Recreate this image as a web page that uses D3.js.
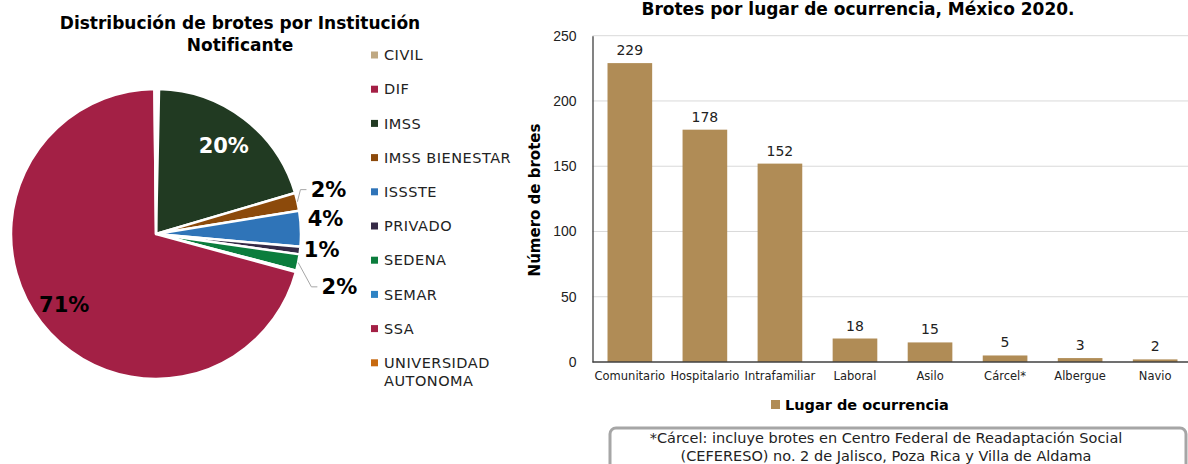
<!DOCTYPE html>
<html lang="es">
<head>
<meta charset="UTF-8">
<title>Brotes</title>
<script src="https://d3js.org/d3.v7.min.js"></script>
<style>
    body { margin: 0; background: #fff; }
    svg { display: block; font-family: "DejaVu Sans", sans-serif; }
    .title { font-weight: bold; font-size: 17px; fill: #000; }
    .legend text { font-size: 14.5px; letter-spacing: 0.5px; fill: #222; }
    .pct { font-weight: bold; font-size: 21px; }
    .grid line { stroke: #d9d9d9; stroke-width: 1px; }
    .tick text { font-size: 14px; fill: #222; }
    .cat text { font-size: 11.5px; fill: #222; }
    .val { font-size: 14px; fill: #222; }
</style>
</head>
<body>
<svg id="chart" width="1188" height="464"></svg>
<script>
// ---- pie data: institución notificante (brotes)
const institutions = ["CIVIL", "DIF", "IMSS", "IMSS BIENESTAR", "ISSSTE", "PRIVADO",
    "SEDENA", "SEMAR", "SSA", "UNIVERSIDAD AUTONOMA"];
const instCounts = [1, 1, 121, 12, 24, 5, 11, 1, 425, 1];
const instColors = ["#bfa882", "#a41f45", "#213a22", "#8c4a0b", "#2f74b8", "#352a46",
    "#0b7d3d", "#2e83c4", "#a32045", "#c7690f"];

// ---- bar data: lugar de ocurrencia
const places = ["Comunitario", "Hospitalario", "Intrafamiliar", "Laboral", "Asilo",
    "Cárcel*", "Albergue", "Navio"];
const placeCounts = [229, 178, 152, 18, 15, 5, 3, 2];
const yTicks = [0, 50, 100, 150, 200, 250];

const svg = d3.select("#chart");

// ================= PIE =================
const cx = 156, cy = 234, R = 145;
const total = d3.sum(instCounts);
const pieData = d3.pie().sort(null).value(d => d)(instCounts);
const arc = d3.arc().innerRadius(0).outerRadius(R);
const g = svg.append("g").attr("transform", `translate(${cx},${cy})`);

g.selectAll("path")
    .data(pieData)
    .enter().append("path")
    .attr("d", arc)
    .attr("fill", (d, i) => instColors[i])
    .attr("stroke", "#fff")
    .attr("stroke-width", 2.5)
    .attr("stroke-linejoin", "round");

// label placement tweaks (only labelled slices)
const labelOpts = {
    "IMSS": {r: 0.77, color: "#fff", dy: 0},
    "SSA": {r: 0.8, color: "#000", dy: 0},
    "IMSS BIENESTAR": {r: 1.22, color: "#000", dy: -5, leader: true},
    "ISSSTE": {r: 1.17, color: "#000", dy: -9},
    "PRIVADO": {r: 1.15, color: "#000", dy: -4},
    "SEDENA": {r: 1.29, color: "#000", dy: 16, leader: true}
};

pieData.forEach((d, i) => {
    const o = labelOpts[institutions[i]];
    if (!o) return;
    const a = (d.startAngle + d.endAngle) / 2;
    const lx = Math.sin(a) * R * o.r;
    const ly = -Math.cos(a) * R * o.r + o.dy;
    const pct = Math.round(d.value / total * 100) + "%";
    if (o.leader) {
        const ex = Math.sin(a) * R, ey = -Math.cos(a) * R;
        const tx = lx - 22;
        g.append("polyline")
            .attr("points", `${ex},${ey} ${tx - 6},${ly} ${tx},${ly}`)
            .attr("fill", "none")
            .attr("stroke", "#a6a6a6")
            .attr("stroke-width", 1);
    }
    g.append("text")
        .attr("class", "pct")
        .attr("x", lx)
        .attr("y", ly)
        .attr("dy", "0.36em")
        .attr("text-anchor", "middle")
        .attr("fill", o.color)
        .text(pct);
});

svg.append("text").attr("class", "title")
    .attr("x", 240).attr("y", 29).attr("text-anchor", "middle")
    .text("Distribución de brotes por Institución");
svg.append("text").attr("class", "title")
    .attr("x", 240).attr("y", 51).attr("text-anchor", "middle")
    .text("Notificante");

// legend
const leg = svg.append("g").attr("class", "legend");
institutions.forEach((name, i) => {
    const y = 55 + i * 34.2;
    leg.append("rect")
        .attr("x", 371).attr("y", y - 3.5)
        .attr("width", 7).attr("height", 7)
        .attr("fill", instColors[i]);
    const words = name === "UNIVERSIDAD AUTONOMA" ? ["UNIVERSIDAD", "AUTONOMA"] : [name];
    const t = leg.append("text").attr("x", 384).attr("y", y).attr("dy", "0.36em");
    words.forEach((w, j) => {
        t.append("tspan").attr("x", 384).attr("dy", j === 0 ? "0.36em" : "1.25em").text(w);
    });
});

// ================= BARS =================
const x = d3.scaleBand().domain(places).range([592.5, 1192.5]).paddingInner(0.405).paddingOuter(0.2);
const y = d3.scaleLinear().domain([0, 250]).range([362, 35.7]);
const barColor = "#b08c56";

svg.append("g").attr("class", "grid")
    .selectAll("line")
    .data(yTicks.filter(t => t > 0))
    .enter().append("line")
    .attr("x1", 592.5).attr("x2", 1188)
    .attr("y1", d => y(d)).attr("y2", d => y(d));

svg.selectAll("rect.bar")
    .data(placeCounts)
    .enter().append("rect")
    .attr("class", "bar")
    .attr("x", (d, i) => x(places[i]))
    .attr("width", x.bandwidth())
    .attr("y", d => y(d))
    .attr("height", d => y(0) - y(d))
    .attr("fill", barColor);

svg.selectAll("text.val")
    .data(placeCounts)
    .enter().append("text")
    .attr("class", "val")
    .attr("x", (d, i) => x(places[i]) + x.bandwidth() / 2)
    .attr("y", d => y(d) - 8)
    .attr("text-anchor", "middle")
    .text(d => d);

// y axis
const yAxis = svg.append("g")
    .attr("transform", "translate(592.5,0)")
    .call(d3.axisLeft(y).tickValues(yTicks).tickSize(0).tickPadding(16));
yAxis.select(".domain").attr("stroke", "#404040").attr("stroke-width", 1.3);

// x axis
const xAxis = svg.append("g").attr("class", "cat")
    .attr("transform", `translate(0,${y(0)})`)
    .call(d3.axisBottom(x).tickSize(0).tickPadding(10));
xAxis.select(".domain").attr("d", `M592.5,0H1188`).attr("stroke", "#404040").attr("stroke-width", 1.3);
xAxis.selectAll("text").attr("font-family", "DejaVu Sans");

svg.append("text").attr("class", "title")
    .attr("x", 858).attr("y", 15).attr("text-anchor", "middle")
    .attr("font-size", "16.5px")
    .text("Brotes por lugar de ocurrencia, México 2020.");

svg.append("text")
    .attr("transform", "translate(540,200) rotate(-90)")
    .attr("text-anchor", "middle")
    .attr("font-weight", "bold")
    .attr("font-size", "15px")
    .text("Número de brotes");

// bar legend
svg.append("rect").attr("x", 771).attr("y", 400).attr("width", 9).attr("height", 9).attr("fill", barColor);
svg.append("text")
    .attr("x", 785).attr("y", 405).attr("dy", "0.36em")
    .attr("font-weight", "bold").attr("font-size", "14.5px")
    .text("Lugar de ocurrencia");

// footnote box
svg.append("rect")
    .attr("x", 610).attr("y", 428)
    .attr("width", 576).attr("height", 50)
    .attr("rx", 6)
    .attr("fill", "#fff")
    .attr("stroke", "#a6a6a6")
    .attr("stroke-width", 3);
const note = svg.append("text").attr("text-anchor", "middle").attr("font-size", "14.5px").attr("fill", "#222");
note.append("tspan").attr("x", 886).attr("y", 443).text("*Cárcel: incluye brotes en Centro Federal de Readaptación Social");
note.append("tspan").attr("x", 886).attr("y", 461).text("(CEFERESO) no. 2 de Jalisco, Poza Rica y Villa de Aldama");
</script>
</body>
</html>
